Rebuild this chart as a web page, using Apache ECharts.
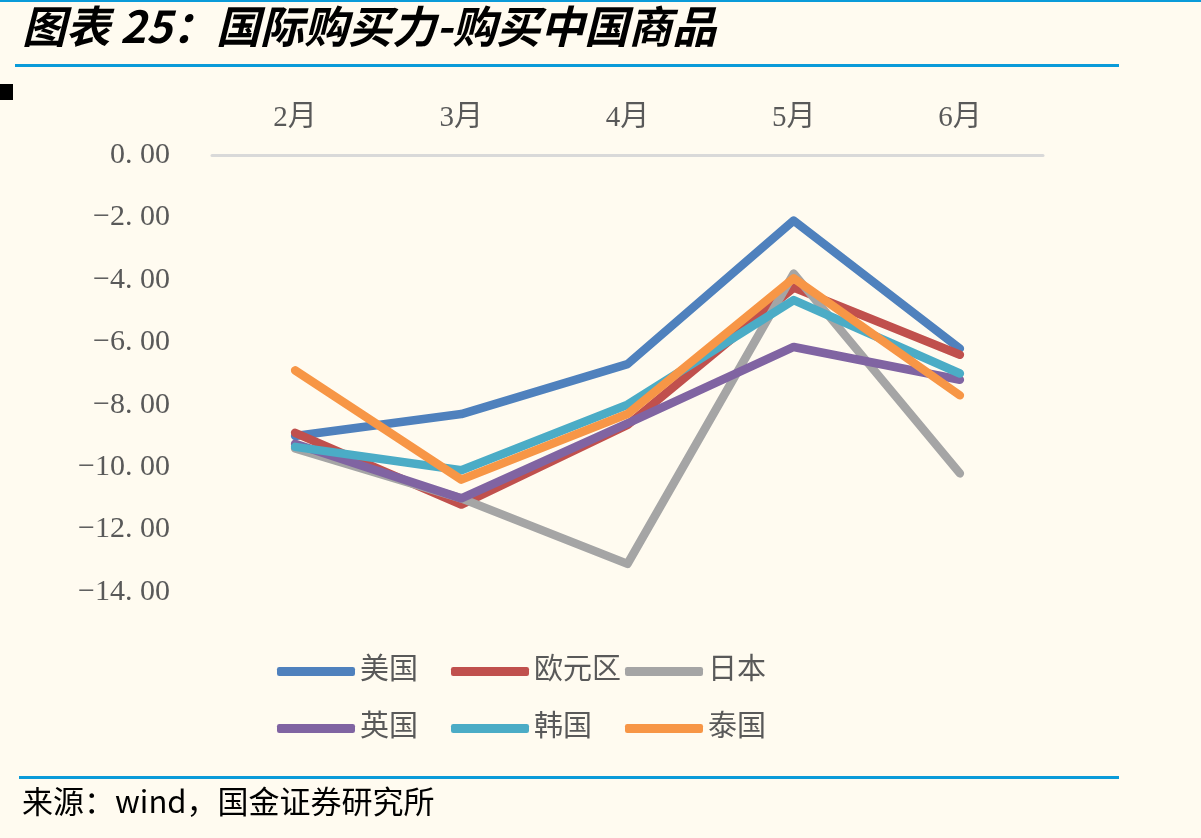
<!DOCTYPE html>
<html>
<head>
<meta charset="utf-8">
<script src="https://cdn.jsdelivr.net/npm/echarts@6/dist/echarts.min.js"></script>
<style>
  html, body { margin: 0; padding: 0; background: #FFFBF0; }
  #chart { width: 1201px; height: 838px; }
</style>
</head>
<body>
<div id="chart"></div>
<script>
// 数据
const months = ['2月', '3月', '4月', '5月', '6月']
const usa = [-9.0, -8.3, -6.7, -2.1, -6.2]
const euro = [-8.9, -11.2, -8.65, -4.25, -6.4]
const japan = [-9.4, -11.0, -13.1, -3.8, -10.2]
const uk = [-9.25, -11.0, -8.6, -6.15, -7.2]
const korea = [-9.35, -10.1, -8.0, -4.65, -7.0]
const thailand = [-6.9, -10.4, -8.3, -3.95, -7.7]
const yTicks = [0, -2, -4, -6, -8, -10, -12, -14]

const seriesList = [
  { name: '美国', color: '#4F81BD', data: usa },
  { name: '欧元区', color: '#C0504D', data: euro },
  { name: '日本', color: '#A5A5A5', data: japan },
  { name: '英国', color: '#8064A2', data: uk },
  { name: '韩国', color: '#4BACC6', data: korea },
  { name: '泰国', color: '#F79646', data: thailand }
]

// 图例位置（两行三列）
const legendPos = [
  { left: 272, top: 652 }, { left: 446, top: 652 }, { left: 620, top: 652 },
  { left: 272, top: 709 }, { left: 446, top: 709 }, { left: 620, top: 709 }
]

const serifFont = '"Liberation Serif", "Noto Sans CJK SC", serif'
const labelColor = '#595959'

const chart = echarts.init(document.getElementById('chart'), null, { renderer: 'canvas' })

const option = {
  backgroundColor: '#FFFBF0',
  animation: false,
  graphic: [
    { type: 'rect', shape: { x: 0, y: 0, width: 1201, height: 2 }, style: { fill: '#0A9BD9' } },
    {
      type: 'text', left: 22, top: 4,
      style: {
        text: '图表 25：国际购买力-购买中国商品',
        font: 'italic bold 44px "Noto Sans CJK SC", sans-serif',
        fill: '#000'
      }
    },
    { type: 'rect', shape: { x: 15, y: 64, width: 1104, height: 3 }, style: { fill: '#0A9BD9' } },
    { type: 'rect', shape: { x: 0, y: 84, width: 13, height: 16 }, style: { fill: '#000' } },
    { type: 'rect', shape: { x: 19, y: 776, width: 1100, height: 3 }, style: { fill: '#0A9BD9' } },
    {
      type: 'text', left: 22, top: 786,
      style: {
        text: '来源：wind，国金证券研究所',
        font: '31px "Noto Sans CJK SC", sans-serif',
        fill: '#000'
      }
    }
  ],
  legend: seriesList.map((s, i) => ({
    data: [{ name: s.name, icon: 'roundRect' }],
    left: legendPos[i].left,
    top: legendPos[i].top,
    itemWidth: 78,
    itemHeight: 9,
    itemGap: 0,
    itemStyle: { color: s.color, borderWidth: 0 },
    textStyle: { color: labelColor, fontSize: 29, fontFamily: serifFont },
    selectedMode: false
  })),
  grid: {
    left: 212,
    right: 158,
    top: 155,
    bottom: 246
  },
  xAxis: {
    type: 'category',
    position: 'top',
    data: months,
    boundaryGap: true,
    axisLine: { show: true, lineStyle: { color: '#D9D9D9', width: 3 } },
    axisTick: { show: false },
    axisLabel: { color: labelColor, fontSize: 29, fontFamily: serifFont, margin: 22 },
    splitLine: { show: false }
  },
  yAxis: {
    type: 'value',
    min: -14,
    max: 0,
    interval: 2,
    axisLine: { show: false },
    axisTick: { show: false },
    splitLine: { show: false },
    axisLabel: {
      color: labelColor,
      fontSize: 30,
      fontFamily: serifFont,
      margin: 42,
      formatter: v => (yTicks.includes(v) ? v.toFixed(2).replace('.', '. ').replace('-', '−') : '')
    }
  },
  series: seriesList.map(s => ({
    name: s.name,
    type: 'line',
    data: s.data,
    symbol: 'none',
    itemStyle: { color: s.color },
    lineStyle: { color: s.color, width: 8.5, cap: 'round', join: 'round' },
    emphasis: { disabled: true }
  }))
}

chart.setOption(option)
</script>
</body>
</html>
